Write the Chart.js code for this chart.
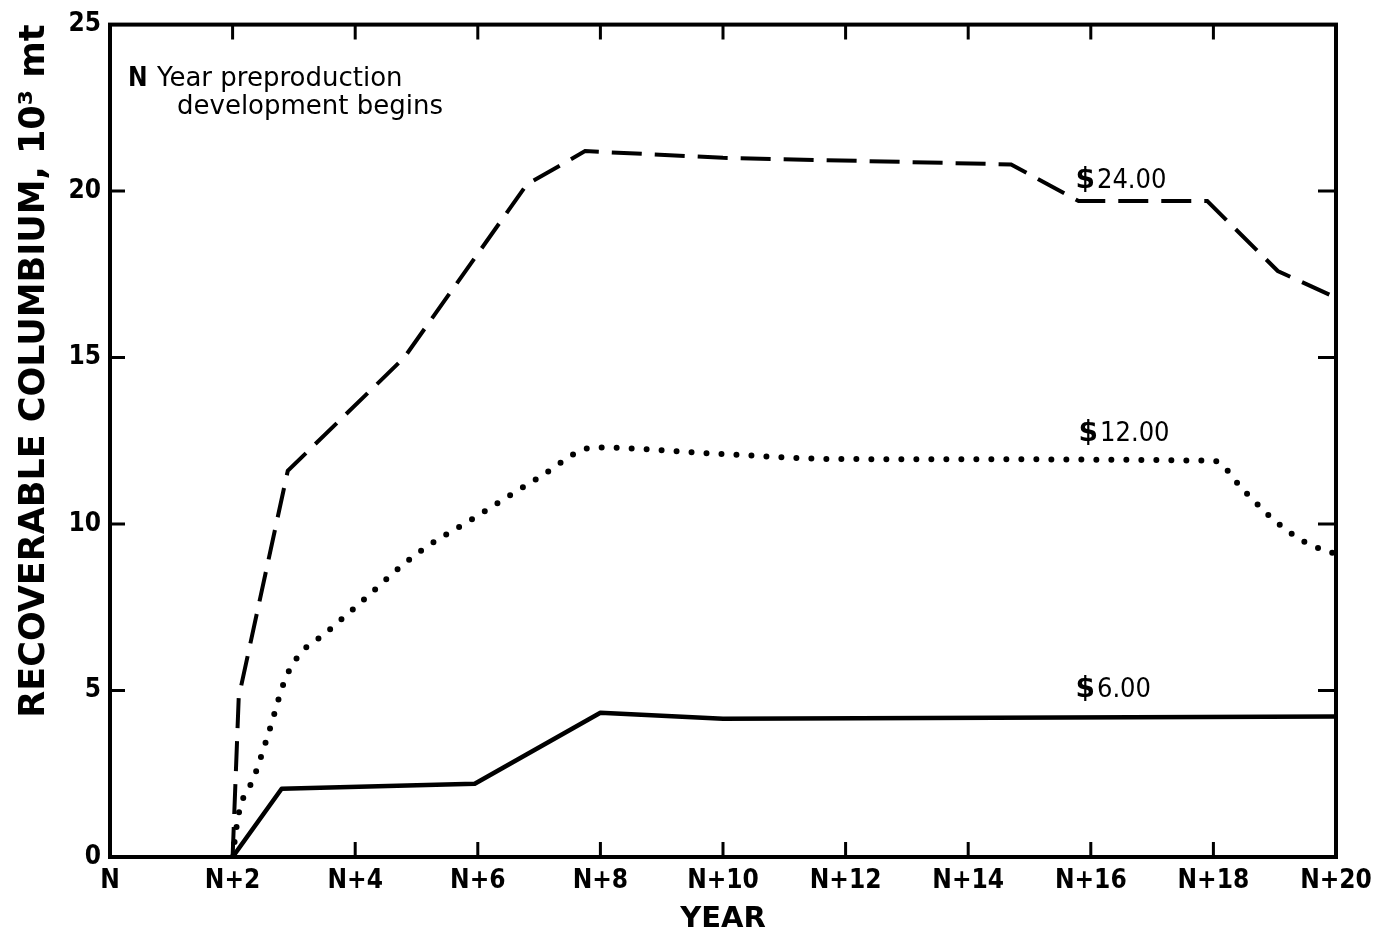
<!DOCTYPE html>
<html>
<head>
<meta charset="utf-8">
<title>Recoverable columbium by year</title>
<script src="https://cdn.jsdelivr.net/npm/chart.js@4/dist/chart.umd.min.js"></script>
<style>
  html, body { margin: 0; padding: 0; background: #fff; }
  #wrap { width: 1385px; height: 937px; }
</style>
</head>
<body>
<div id="wrap"><canvas id="chart" width="1385" height="937"></canvas></div>
<script>
// Years after N (start of preproduction development)
const years6 = [2, 2.8, 5.95, 8, 10, 20];
const values6 = [0, 2.05, 2.2, 4.33, 4.15, 4.22];

const years12 = [2, 2.1, 2.35, 2.6, 2.85, 3.1, 3.5, 4, 5, 6, 7, 7.9, 10, 12, 18, 18.5, 19, 19.5, 20];
const values12 = [0, 1.3, 2.4, 3.8, 5.3, 6.1, 6.7, 7.5, 9.1, 10.25, 11.4, 12.3, 12.1, 11.95, 11.9, 11.0, 10.1, 9.45, 9.1];

const years24 = [2, 2.1, 2.9, 4.8, 6.8, 7.75, 10, 14.7, 15.8, 17.9, 19.05, 20];
const values24 = [0, 4.8, 11.6, 15.0, 20.2, 21.2, 21.0, 20.8, 19.7, 19.7, 17.6, 16.8];

const priceLabels = ['$6.00', '$12.00', '$24.00'];
const yTickValues = [0, 5, 10, 15, 20, 25];
const xTickLabel = v => (v === 0 ? 'N' : 'N+' + v);

const toPoints = (xs, ys) => xs.map((x, i) => ({ x, y: ys[i] }));

const FONT = 'DejaVu Sans';
const FONT_NARROW = '"DejaVu Sans Condensed", "DejaVu Sans"';

// Frame, inward tick marks and in-plot notes
const framePlugin = {
  id: 'frameAndNotes',
  afterDraw(chart, args, opts) {
    const { ctx, chartArea: a, scales: { x, y } } = chart;
    ctx.save();
    ctx.strokeStyle = '#000';
    ctx.lineCap = 'butt';

    ctx.lineWidth = 3;
    const tickLen = 15;
    x.ticks.forEach(t => {
      if (t.value <= x.min || t.value >= x.max) return;
      const px = x.getPixelForValue(t.value);
      ctx.beginPath();
      ctx.moveTo(px, a.bottom); ctx.lineTo(px, a.bottom - tickLen);
      ctx.moveTo(px, a.top); ctx.lineTo(px, a.top + tickLen);
      ctx.stroke();
    });
    y.ticks.forEach(t => {
      if (t.value <= y.min || t.value >= y.max) return;
      const py = y.getPixelForValue(t.value);
      ctx.beginPath();
      ctx.moveTo(a.left, py); ctx.lineTo(a.left + tickLen, py);
      ctx.moveTo(a.right, py); ctx.lineTo(a.right - 18, py);
      ctx.stroke();
    });

    ctx.lineWidth = 4;
    ctx.strokeRect(a.left, a.top, a.right - a.left, a.bottom - a.top);

    // Note in the upper-left corner
    ctx.fillStyle = '#000';
    ctx.textBaseline = 'alphabetic';
    ctx.textAlign = 'left';
    ctx.font = 'bold 26px ' + FONT_NARROW;
    ctx.fillText('N', a.left + 18, a.top + 61);
    ctx.font = '26px "' + FONT + '"';
    ctx.fillText('Year preproduction', a.left + 47, a.top + 61);
    ctx.fillText('development begins', a.left + 67, a.top + 89);

    // Price labels beside each curve
    (opts.labels || []).forEach(l => {
      const px = x.getPixelForValue(l.x);
      const py = y.getPixelForValue(l.y);
      ctx.font = 'bold 28px "' + FONT + '"';
      ctx.fillText('$', px, py);
      const w = ctx.measureText('$').width;
      ctx.font = '27px ' + FONT_NARROW;
      ctx.fillText(l.text.slice(1), px + w + 2, py);
    });
    ctx.restore();
  }
};

new Chart(document.getElementById('chart'), {
  type: 'line',
  data: {
    datasets: [
      {
        label: priceLabels[2],
        data: toPoints(years24, values24),
        borderColor: '#000',
        borderWidth: 4,
        borderDash: [30, 13],
        pointRadius: 0,
        tension: 0
      },
      {
        label: priceLabels[1],
        data: toPoints(years12, values12),
        borderColor: '#000',
        borderWidth: 6,
        borderDash: [0, 15],
        borderCapStyle: 'round',
        pointRadius: 0,
        cubicInterpolationMode: 'monotone'
      },
      {
        label: priceLabels[0],
        data: toPoints(years6, values6),
        borderColor: '#000',
        borderWidth: 4.5,
        borderJoinStyle: 'round',
        pointRadius: 0,
        tension: 0
      }
    ]
  },
  options: {
    responsive: false,
    animation: false,
    layout: { padding: { left: 0, top: 23, right: 49, bottom: 0 } },
    plugins: {
      legend: { display: false },
      tooltip: { enabled: false },
      frameAndNotes: {
        labels: [
          { text: priceLabels[2], x: 15.75, y: 20.1 },
          { text: priceLabels[1], x: 15.8, y: 12.5 },
          { text: priceLabels[0], x: 15.75, y: 4.8 }
        ]
      }
    },
    scales: {
      x: {
        type: 'linear',
        min: 0,
        max: 20,
        ticks: {
          stepSize: 2,
          autoSkip: false,
          maxRotation: 0,
          color: '#000',
          padding: 9,
          font: { family: FONT_NARROW, size: 26, weight: 'bold' },
          callback: v => xTickLabel(v)
        },
        grid: { display: false, drawTicks: false },
        border: { display: false },
        title: {
          display: true,
          text: 'YEAR',
          color: '#000',
          font: { family: FONT, size: 29, weight: 'bold' },
          padding: { top: 0, bottom: 0 }
        },
        afterFit(scale) { scale.height = 80; }
      },
      y: {
        type: 'linear',
        min: 0,
        max: 25,
        afterBuildTicks(scale) { scale.ticks = yTickValues.map(v => ({ value: v })); },
        ticks: {
          color: '#000',
          padding: 9,
          font: { family: FONT_NARROW, size: 26, weight: 'bold' }
        },
        grid: { display: false, drawTicks: false },
        border: { display: false },
        title: {
          display: true,
          text: 'RECOVERABLE COLUMBIUM, 10³ mt',
          align: 'end',
          color: '#000',
          font: { family: FONT, size: 35, weight: 'bold' },
          padding: { top: 14, bottom: 0 }
        },
        afterFit(scale) { scale.width = 110; }
      }
    }
  },
  plugins: [framePlugin]
});
</script>
</body>
</html>
